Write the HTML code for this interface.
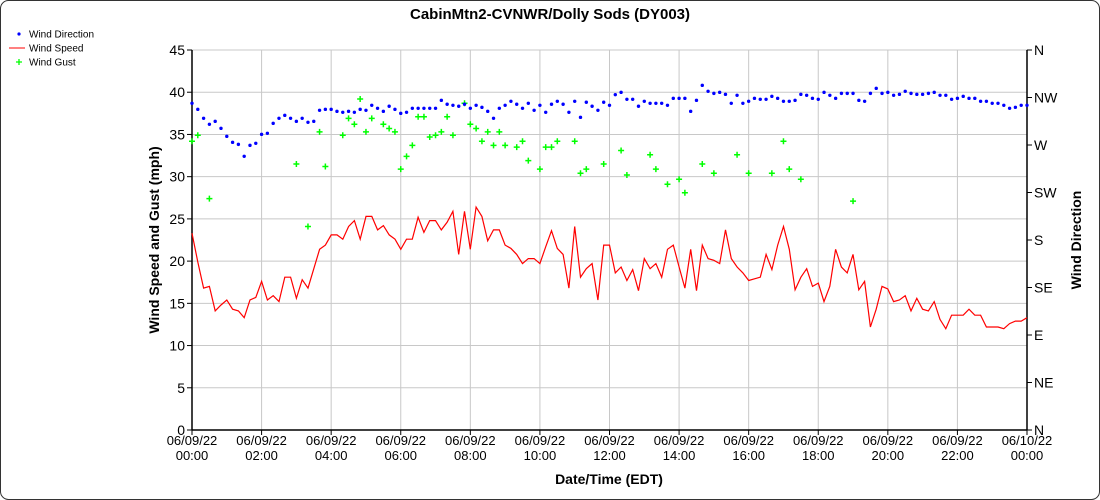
<!DOCTYPE html>
<html><head><meta charset="utf-8"><style>
html,body{margin:0;padding:0;background:#fff;}
svg{display:block;font-family:"Liberation Sans",Arial,sans-serif;}
</style></head><body>
<svg id="chart" width="1100" height="500">
<rect x="0.5" y="0.5" width="1099" height="499" rx="8" fill="#fff" stroke="#333"/>
<text x="550" y="19" text-anchor="middle" font-size="15" font-weight="bold">CabinMtn2-CVNWR/Dolly Sods (DY003)</text>
<g font-size="10">
 <g><circle cx="19" cy="34" r="1.6" fill="#00f"/><text x="29" y="37.5">Wind Direction</text></g>
 <g><line x1="9" y1="48" x2="25" y2="48" stroke="#f00"/><text x="29" y="51.5">Wind Speed</text></g>
 <g><path d="M16 62h6M19 59v6" stroke="#0f0" stroke-width="1.3"/><text x="29" y="65.5">Wind Gust</text></g>
</g>
<g id="grid"></g><g id="axes"></g><g id="series"></g>
<text transform="translate(159,240) rotate(-90)" text-anchor="middle" font-size="14" font-weight="bold">Wind Speed and Gust (mph)</text>
<text transform="translate(1081,240) rotate(-90)" text-anchor="middle" font-size="14" font-weight="bold">Wind Direction</text>
<text x="609" y="484" text-anchor="middle" font-size="14" font-weight="bold">Date/Time (EDT)</text>
</svg>
<script>
const speed=[23.3,19.9,16.8,17.0,14.1,14.8,15.4,14.3,14.1,13.3,
15.4,15.7,17.6,15.4,15.9,15.2,18.1,18.1,15.6,17.8,
16.8,19.1,21.4,21.9,23.1,23.1,22.6,24.1,24.8,22.6,
25.3,25.3,23.7,24.2,23.1,22.6,21.4,22.6,22.6,25.2,
23.4,24.8,24.8,23.7,24.6,25.9,20.8,25.9,21.4,26.4,
25.3,22.4,23.7,23.7,21.9,21.5,20.8,19.7,20.3,20.3,
19.7,21.7,23.6,21.5,20.8,16.8,24.1,18.1,19.1,19.7,
15.4,21.9,21.9,18.6,
19.3,17.7,19.0,16.5,20.3,19.1,19.7,18.1,21.4,21.9,
19.3,16.8,21.4,16.5,21.9,20.3,20.1,19.7,23.7,20.3,
19.3,18.6,17.7,17.9,18.1,20.8,19.0,21.9,24.1,21.4,
16.6,18.1,19.1,17.0,17.4,15.2,17.0,21.4,19.3,18.6,
20.8,16.6,17.6,12.2,14.3,17.0,16.7,15.2,15.4,15.9,
14.1,15.6,14.3,14.1,15.2,13.1,12.0,13.6,13.6,13.6,
14.3,13.6,13.6,12.2,12.2,12.2,12.0,12.6,12.9,12.9,13.3];
const direction=[309.5,303.8,295.3,289.6,292.4,285.8,278.2,272.5,270.6,259.3,
269.7,271.6,280.1,281.1,290.5,295.3,298.1,295.3,292.4,295.3,
291.5,292.4,302.9,303.8,303.8,301.9,301.0,301.9,301.0,303.8,
302.9,307.6,304.8,301.9,306.7,303.8,300.0,301.0,304.8,304.8,
304.8,304.8,304.8,312.3,308.6,307.6,306.7,308.6,304.8,307.6,
305.7,301.9,295.3,304.8,307.6,311.4,308.6,304.8,309.5,302.9,
307.6,301.0,308.6,311.4,308.6,301.0,311.4,296.2,310.5,306.7,
302.9,310.5,307.6,317.7,
319.9,313.3,313.3,306.7,311.4,309.5,309.5,309.5,307.6,314.2,
314.2,314.2,301.9,312.3,326.5,320.9,318.9,319.9,318.0,309.5,
317.1,309.5,311.4,314.2,313.3,313.3,316.1,314.2,311.4,311.4,
312.3,318.0,317.1,314.2,313.3,319.9,317.1,314.2,318.9,318.9,
318.9,312.3,311.4,318.9,323.7,318.9,319.9,317.1,318.0,320.9,
318.9,318.0,318.0,318.9,319.9,317.1,317.1,313.3,314.2,316.1,
314.2,314.2,311.4,311.4,309.5,309.5,307.6,304.8,305.7,307.6,307.6];
const gustIndex=[0,1,3,18,20,22,23,26,27,28,29,30,31,33,34,35,36,37,38,39,40,41,42,43,44,45,47,48,49,50,51,52,53,54,56,57,58,60,61,62,63,66,67,68,71,74,75,79,80,82,84,85,88,90,94,96,100,102,103,105,114];
const gustValue=[34.2,34.9,27.4,31.5,24.1,35.3,31.2,34.9,36.9,36.2,39.2,35.3,36.9,36.2,35.7,35.3,30.9,32.4,33.7,37.1,37.1,34.7,34.9,35.3,37.1,34.9,38.7,36.2,35.7,34.2,35.3,33.7,35.3,33.7,33.5,34.2,31.9,30.9,33.5,33.5,34.2,34.2,30.4,30.9,31.5,33.1,30.2,32.6,30.9,29.1,29.7,28.1,31.5,30.4,32.6,30.4,30.4,34.2,30.9,29.7,27.1];
const yTicks=[0,5,10,15,20,25,30,35,40,45];
const dirLabels=["N","NE","E","SE","S","SW","W","NW","N"];
const xHours=[0,2,4,6,8,10,12,14,16,18,20,22,24];
const xDates=["06/09/22","06/09/22","06/09/22","06/09/22","06/09/22","06/09/22","06/09/22","06/09/22","06/09/22","06/09/22","06/09/22","06/09/22","06/10/22"];
const xTimes=["00:00","02:00","04:00","06:00","08:00","10:00","12:00","14:00","16:00","18:00","20:00","22:00","00:00"];

const L=192,R=1027,T=50,B=430,NS="http://www.w3.org/2000/svg";
const stepMin=10;
const xOfIdx=i=>L+(i*stepMin/60)/24*(R-L);
const xOfHour=h=>L+h/24*(R-L);
const yS=v=>B-v/45*(B-T);
const yD=d=>B-d/360*(B-T);
function mk(tag,attrs,parent){const e=document.createElementNS(NS,tag);for(const k in attrs)e.setAttribute(k,attrs[k]);parent.appendChild(e);return e;}
const grid=document.getElementById('grid'),axes=document.getElementById('axes'),ser=document.getElementById('series');
yTicks.forEach(v=>{
 const g=mk('line',{x1:L,x2:R,y1:yS(v),y2:yS(v),stroke:'#c8c8c8'},grid);
 
 
 const tk=mk('line',{x1:L-5,x2:L,y1:yS(v),y2:yS(v),stroke:'#000'},axes);
 
 
 const t=mk('text',{x:L-7,y:yS(v)+5,'text-anchor':'end','font-size':14},axes);
 t.textContent=v;
 
 
});
dirLabels.forEach((lab,i)=>{
 const y=yD(i*45);
 const tk=mk('line',{x1:R,x2:R+5,y1:y,y2:y,stroke:'#000'},axes);
 
 
 const t=mk('text',{x:R+7,y:y+5,'font-size':14},axes);
 t.textContent=lab;
 
 
});
xHours.forEach((h,i)=>{
 const x=xOfHour(h);
 const g=mk('line',{x1:x,x2:x,y1:T,y2:B,stroke:'#c8c8c8'},grid);
 
 
 const tk=mk('line',{x1:x,x2:x,y1:B,y2:B+5,stroke:'#000'},axes);
 
 
 const t1=mk('text',{x:x,y:445,'text-anchor':'middle','font-size':13},axes);
 t1.textContent=xDates[i];
 
 
 const t2=mk('text',{x:x,y:460,'text-anchor':'middle','font-size':13},axes);
 t2.textContent=xTimes[i];
 
 
});
[[L,T,L,B],[R,T,R,B],[L,B,R,B]].forEach(a=>{
 const l=mk('line',{x1:a[0],y1:a[1],x2:a[2],y2:a[3],stroke:'#000','stroke-width':1.5},axes);
 
 
});
const pts=speed.map((v,i)=>xOfIdx(i).toFixed(1)+','+yS(v).toFixed(1)).join(' ');
const pl=mk('polyline',{points:pts,fill:'none',stroke:'#f00','stroke-width':1.2},ser);


gustIndex.forEach((idx,k)=>{
 const x=xOfIdx(idx),y=yS(gustValue[k]);
 const p=mk('path',{d:`M${x-3} ${y}h6M${x} ${y-3}v6`,stroke:'#0f0','stroke-width':1.5},ser);
 
 
});
direction.forEach((d,i)=>{
 const c=mk('circle',{cx:xOfIdx(i),cy:yD(d),r:1.7,fill:'#00f'},ser);
 
 
});
</script>
</body></html>
